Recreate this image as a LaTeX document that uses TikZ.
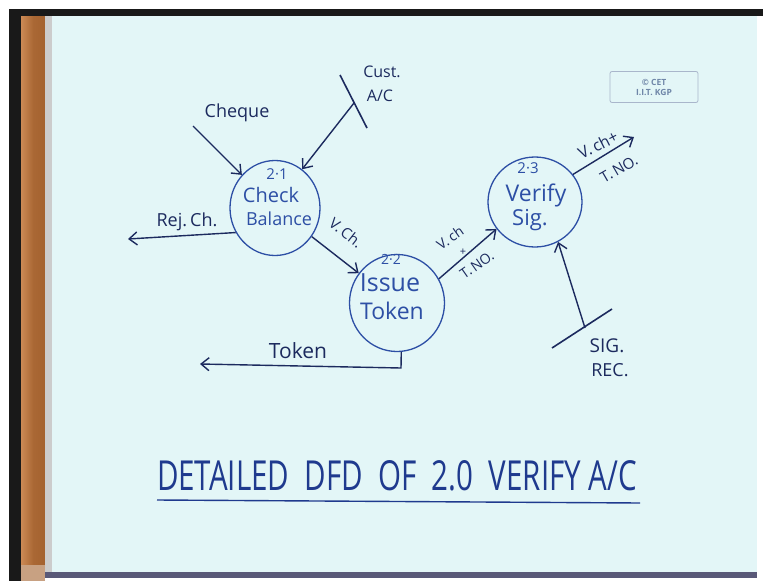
\documentclass[tikz,border=0pt]{standalone}
\usepackage{fontspec}
\setmainfont{Open Sans}
\usetikzlibrary{shapes.geometric,arrows.meta}
\definecolor{paper}{HTML}{E3F6F7}
\definecolor{wood}{HTML}{A4622F}
\definecolor{woodlight}{HTML}{CC8A55}
\definecolor{ink}{HTML}{1C2A5E}
\definecolor{blueink}{HTML}{2D4FA5}
\definecolor{titleink}{HTML}{1F3A8E}
\definecolor{stamp}{HTML}{6F86A8}
\tikzset{
  proc/.style={draw=blueink, line width=1.3pt, ellipse, inner sep=0pt},
  flow/.style={draw=ink, line width=1.4pt, -{Straight Barb[length=8pt,width=13pt,line width=1.4pt]}},
  bar/.style={draw=ink, line width=1.6pt},
  lbl/.style={text=ink, font=\fontsize{18}{19}\selectfont, inner sep=0pt},
  intext/.style={text=blueink, inner sep=0pt, align=center},
}
\begin{document}
\begin{tikzpicture}[x=1pt,y=-1pt]
\useasboundingbox (0,0) rectangle (763,581);
% frame / photo background
\fill[white] (0,0) rectangle (763,581);
\fill[black!90] (9,9) rectangle (763,16);
\fill[black!90] (9,9) rectangle (21,581);
\fill[left color=woodlight, right color=wood, middle color=wood!85!woodlight] (21,16) rectangle (45,565);
\fill[gray!40] (45,16) rectangle (52,572);
\fill[paper] (52,16) rectangle (757,572);
\fill[black!60!blue!30!gray] (45,572) rectangle (757,578);
\fill[wood!60!white] (21,565) rectangle (45,581);

% processes
\node[proc, minimum width=90pt, minimum height=95pt] (c1) at (275,208) {};
\node[proc, minimum width=95pt, minimum height=97pt] (c2) at (397,303) {};
\node[proc, minimum width=94pt, minimum height=90pt] (c3) at (535,202) {};

\node[intext, font=\fontsize{15}{16}\selectfont] (t1a) at (277,174) {2·1};
\node[intext, font=\fontsize{20}{21}\selectfont] (t1b) at (271,195) {Check};
\node[intext, font=\fontsize{18}{19}\selectfont] (t1c) at (279,219) {Balance};

\node[intext, font=\fontsize{14}{15}\selectfont] (t2a) at (391,259) {2·2};
\node[intext, font=\fontsize{25}{26}\selectfont] (t2b) at (390,283) {Issue};
\node[intext, font=\fontsize{23}{24}\selectfont] (t2c) at (392,311) {Token};

\node[intext, font=\fontsize{15}{16}\selectfont] (t3a) at (528,168) {2·3};
\node[intext, font=\fontsize{23}{24}\selectfont] (t3b) at (536,195) {Verify};
\node[intext, font=\fontsize{22}{23}\selectfont] (t3c) at (530,220) {Sig.};

% data stores (open-ended bars)
\coordinate (ca1) at (340,75);
\coordinate (ca2) at (367,128);
\coordinate (cam) at (354,103);
\draw[bar] (ca1) -- (ca2);
\coordinate (sr1) at (552,348);
\coordinate (sr2) at (612,309);
\coordinate (srm) at (585,328);
\draw[bar] (sr1) -- (sr2);

% free ends
\coordinate (chq) at (193,126);
\coordinate (rej) at (128,239);
\coordinate (tk1) at (401,368);
\coordinate (tok) at (200,364);
\coordinate (out) at (634,137);

% flows
\draw[flow] (chq) -- (c1);
\draw[flow] (cam) -- (c1.55);
\draw[flow] (c1.212) -- (rej);
\draw[flow] (c1) -- (c2);
\draw[flow] (c2.30) -- (c3.215);
\draw[flow] (c3.36) -- (out);
\draw[flow] (srm) -- (c3.300);
\draw[flow] (c2.275) -- (tk1) -- (tok);

% labels
\node[lbl] (lchq) at (237,113) {Cheque};
\node[lbl, font=\fontsize{16}{17}\selectfont] (lcu1) at (382,72) {Cust.};
\node[lbl, font=\fontsize{16}{17}\selectfont] (lcu2) at (380,96) {A/C};
\node[lbl] (lrej) at (187,222) {Rej.\,Ch.};
\node[lbl, rotate=-38, font=\fontsize{15}{16}\selectfont] (lvch) at (346,233) {V.\,Ch.};
\node[lbl, rotate=35, font=\fontsize{14}{15}\selectfont] (lv2a) at (450,238) {V.\,ch};
\node[lbl, font=\fontsize{11}{12}\selectfont] (lv2b) at (463,252) {+};
\node[lbl, rotate=35, font=\fontsize{14}{15}\selectfont] (lv2c) at (477,265) {T.\,NO.};
\node[lbl, rotate=27, font=\fontsize{16}{17}\selectfont] (lv3a) at (598,145) {V.\,ch+};
\node[lbl, rotate=30, font=\fontsize{15}{16}\selectfont] (lv3b) at (619,169) {T.\,NO.};
\node[lbl, font=\fontsize{19}{20}\selectfont] (lsig) at (607,346) {SIG.};
\node[lbl, font=\fontsize{18}{19}\selectfont] (lrec) at (610,370) {REC.};
\node[lbl, font=\fontsize{21}{22}\selectfont] (ltok) at (298,351) {Token};

% title
\node[text=titleink, inner sep=0pt] (title) at (397,476) {\resizebox{480pt}{30pt}{DETAILED\ \ DFD\ \ OF\ \ 2.0\ \ VERIFY\ A/C}};
\coordinate (ul1) at (157,500);
\coordinate (ul2) at (640,503);
\draw[draw=titleink, line width=1.4pt] (ul1) -- (ul2);

% stamp
\node[draw=stamp!60, rounded corners=2pt, line width=0.8pt, minimum width=88pt, minimum height=31pt, inner sep=0pt] (stampbox) at (654,87) {};
\node[text=stamp, font=\fontsize{8.5}{10}\selectfont\bfseries, inner sep=0pt, align=center] (stamptxt) at (654,87) {© CET\\I.I.T. KGP};
\end{tikzpicture}
\end{document}
